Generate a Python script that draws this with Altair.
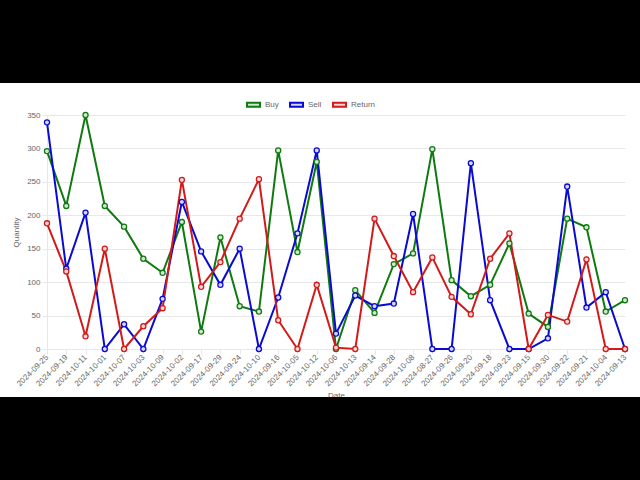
import altair as alt
import pandas as pd

dates = ["2024-09-25", "2024-09-19", "2024-10-11", "2024-10-01", "2024-10-07", "2024-10-03",
         "2024-10-09", "2024-10-02", "2024-09-17", "2024-09-29", "2024-09-24", "2024-10-10",
         "2024-09-16", "2024-10-05", "2024-10-12", "2024-10-06", "2024-10-13", "2024-09-14",
         "2024-09-28", "2024-10-08", "2024-08-27", "2024-09-26", "2024-09-20", "2024-09-18",
         "2024-09-23", "2024-09-15", "2024-09-30", "2024-09-22", "2024-09-21", "2024-10-04",
         "2024-09-13"]
buy = [296, 214, 350, 214, 183, 135, 114, 190, 26, 167, 64, 56,
       297, 145, 280, 0, 88, 54, 127, 143, 299, 103, 79, 96,
       158, 53, 33, 195, 182, 56, 73]
sell = [339, 120, 204, 0, 37, 0, 75, 220, 146, 96, 150, 0,
        77, 173, 297, 23, 80, 64, 68, 202, 0, 0, 278, 73,
        0, 0, 16, 243, 62, 85, 0]
ret = [188, 116, 19, 150, 0, 34, 61, 253, 93, 130, 195, 254,
       43, 0, 96, 2, 0, 195, 139, 85, 137, 78, 52, 135,
       173, 0, 51, 41, 134, 0, 0]

series = ["Buy", "Sell", "Return"]
stroke_colors = ["#0f7a0f", "#0a0ad2", "#d21a1a"]
fill_colors = ["#d3e6d3", "#d6d6f6", "#f6d6d6"]

rows = []
for name, vals in zip(series, [buy, sell, ret]):
    for d, v in zip(dates, vals):
        rows.append({"Date": d, "Quantity": v, "Series": name})
df = pd.DataFrame(rows)

x_enc = alt.X("Date:N", sort=dates, title="Date",
              scale=alt.Scale(type="point", padding=0),
              axis=alt.Axis(labelAngle=-45, labelAlign="right", labelBaseline="middle"))
y_enc = alt.Y("Quantity:Q", title="Quantity",
              scale=alt.Scale(domain=[0, 350], nice=False),
              axis=alt.Axis(values=[0, 50, 100, 150, 200, 250, 300, 350]))

stroke_scale = alt.Scale(domain=series, range=stroke_colors)
fill_scale = alt.Scale(domain=series, range=fill_colors)
legend = alt.Legend(title=None)

lines = alt.Chart(df).mark_line(strokeWidth=2).encode(
    x=x_enc, y=y_enc,
    stroke=alt.Stroke("Series:N", scale=stroke_scale, legend=legend, sort=series),
    detail="Series:N",
)
points = alt.Chart(df).mark_point(filled=True, size=26, strokeWidth=1.3, opacity=1).encode(
    x=x_enc, y=y_enc,
    stroke=alt.Stroke("Series:N", scale=stroke_scale, legend=legend, sort=series),
    fill=alt.Fill("Series:N", scale=fill_scale, legend=legend, sort=series),
)

frame = pd.DataFrame({"k": [0]})
top_bar = alt.Chart(frame).mark_rect(color="black").encode(
    x=alt.value(-47), x2=alt.value(593), y=alt.value(-115), y2=alt.value(-32))
bottom_bar = alt.Chart(frame).mark_rect(color="black").encode(
    x=alt.value(-47), x2=alt.value(593), y=alt.value(282), y2=alt.value(365))

chart = alt.layer(lines, points, top_bar, bottom_bar).properties(
    width=578, height=234,
    autosize=alt.AutoSizeParams(type="none"),
    padding={"left": 47, "top": 115, "right": 15, "bottom": 131},
    background="white",
).configure_view(stroke=None).configure_axis(
    labelFont="Liberation Sans", labelFontSize=8, labelColor="#666666",
    titleFont="Liberation Sans", titleFontSize=8, titleColor="#666666", titleFontWeight="normal",
    gridColor="#e8e8e8", domainColor="#e8e8e8", tickColor="#e8e8e8",
    tickSize=5, labelPadding=2,
).configure_axisY(titlePadding=6).configure_axisX(titlePadding=4).configure_legend(
    orient="none", legendX=199, legendY=-18, direction="horizontal",
    symbolType="M-1,-0.3H1V0.3H-1Z", symbolSize=169, symbolStrokeWidth=2,
    labelFont="Liberation Sans", labelFontSize=8, labelColor="#666666",
    labelOffset=4, columnPadding=7, symbolOpacity=1,
)

chart.save("out.html", embed_options={"renderer": "svg", "actions": False})
